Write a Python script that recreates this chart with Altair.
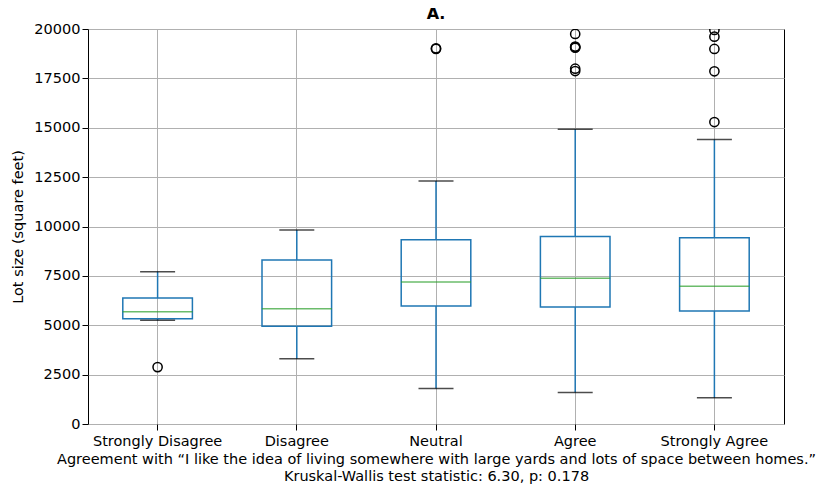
import altair as alt
import pandas as pd

categories = ["Strongly Disagree", "Disagree", "Neutral", "Agree", "Strongly Agree"]
whisker_low = [5250, 3300, 1800, 1590, 1330]
q1 = [5330, 4950, 5975, 5925, 5720]
median = [5680, 5840, 7190, 7380, 6970]
q3 = [6380, 8300, 9330, 9500, 9430]
whisker_high = [7710, 9820, 12300, 14920, 14400]

outlier_cats = ["Strongly Disagree",
                "Neutral", "Neutral",
                "Agree", "Agree", "Agree", "Agree", "Agree", "Agree",
                "Strongly Agree", "Strongly Agree", "Strongly Agree", "Strongly Agree", "Strongly Agree"]
outlier_vals = [2880,
                18990, 19020,
                19750, 19110, 19080, 19050, 17990, 17870,
                19950, 19610, 18990, 17860, 15290]

FONT = "DejaVu Sans"
BLUE = "#1f77b4"
GREEN = "#2ca02c"
FS = 14.5

box_df = pd.DataFrame({
    "cat": categories, "lo": whisker_low, "q1": q1, "med": median,
    "q3": q3, "hi": whisker_high,
})
out_df = pd.DataFrame({"cat": outlier_cats, "value": outlier_vals})

xscale = alt.Scale(type="band", domain=categories, paddingInner=0, paddingOuter=0)
xaxis = alt.Axis(
    title=["Agreement with \u201cI like the idea of living somewhere with large yards and lots of space between homes.\u201d",
           "Kruskal-Wallis test statistic: 6.30, p: 0.178"],
    labelAngle=0, bandPosition=0.5,
)
yscale = alt.Scale(domain=[0, 20000], nice=False, zero=True)
yaxis = alt.Axis(title="Lot size (square feet)", values=list(range(0, 20001, 2500)), format="d")

X = alt.X("cat:N", sort=categories, scale=xscale, axis=xaxis)

base = alt.Chart(box_df)

whisk_lo = base.mark_rule(color=BLUE, strokeWidth=1.5).encode(
    x=X, y=alt.Y("lo:Q", scale=yscale, axis=yaxis), y2="q1:Q")
whisk_hi = base.mark_rule(color=BLUE, strokeWidth=1.5).encode(
    x=X, y=alt.Y("q3:Q", scale=yscale, axis=yaxis), y2="hi:Q")
box = base.mark_bar(width=alt.RelativeBandSize(0.5), fillOpacity=0, stroke=BLUE,
                    strokeWidth=1.5).encode(
    x=X, y=alt.Y("q1:Q", scale=yscale, axis=yaxis), y2="q3:Q")
cap_lo = base.mark_tick(color="black", size=35, thickness=1.5).encode(
    x=X, y=alt.Y("lo:Q", scale=yscale, axis=yaxis))
cap_hi = base.mark_tick(color="black", size=35, thickness=1.5).encode(
    x=X, y=alt.Y("hi:Q", scale=yscale, axis=yaxis))
med = base.mark_tick(color=GREEN, size=70, thickness=1.5).encode(
    x=X, y=alt.Y("med:Q", scale=yscale, axis=yaxis))
outl = alt.Chart(out_df).mark_point(shape="circle", filled=False, color="black",
                                    size=85, strokeWidth=1.5, opacity=1, clip=True).encode(
    x=X, y=alt.Y("value:Q", scale=yscale, axis=yaxis))

chart = alt.layer(whisk_lo, whisk_hi, box, cap_lo, cap_hi, med, outl).properties(
    width=696, height=395,
    title=alt.TitleParams("A.", font=FONT, fontSize=16, fontWeight="bold", color="black",
                          anchor="middle", offset=5, dy=6),
    autosize=alt.AutoSizeParams(type="none"),
    padding={"left": 80, "right": 32, "top": 21, "bottom": 60},
).configure_view(
    stroke="black", strokeWidth=1,
).configure_axis(
    labelFont=FONT, titleFont=FONT, labelFontSize=FS, titleFontSize=FS,
    labelColor="black", titleColor="black", titleFontWeight="normal",
    grid=True, gridColor="#b0b0b0", gridWidth=1,
    domain=False, tickColor="black", tickSize=6, tickWidth=1,
    labelPadding=2,
).configure_axisX(
    titlePadding=5, titleLineHeight=17, labelPadding=4,
).configure_axisY(
    titlePadding=8,
)

chart.save("out.html", embed_options={"renderer": "svg", "actions": False})
